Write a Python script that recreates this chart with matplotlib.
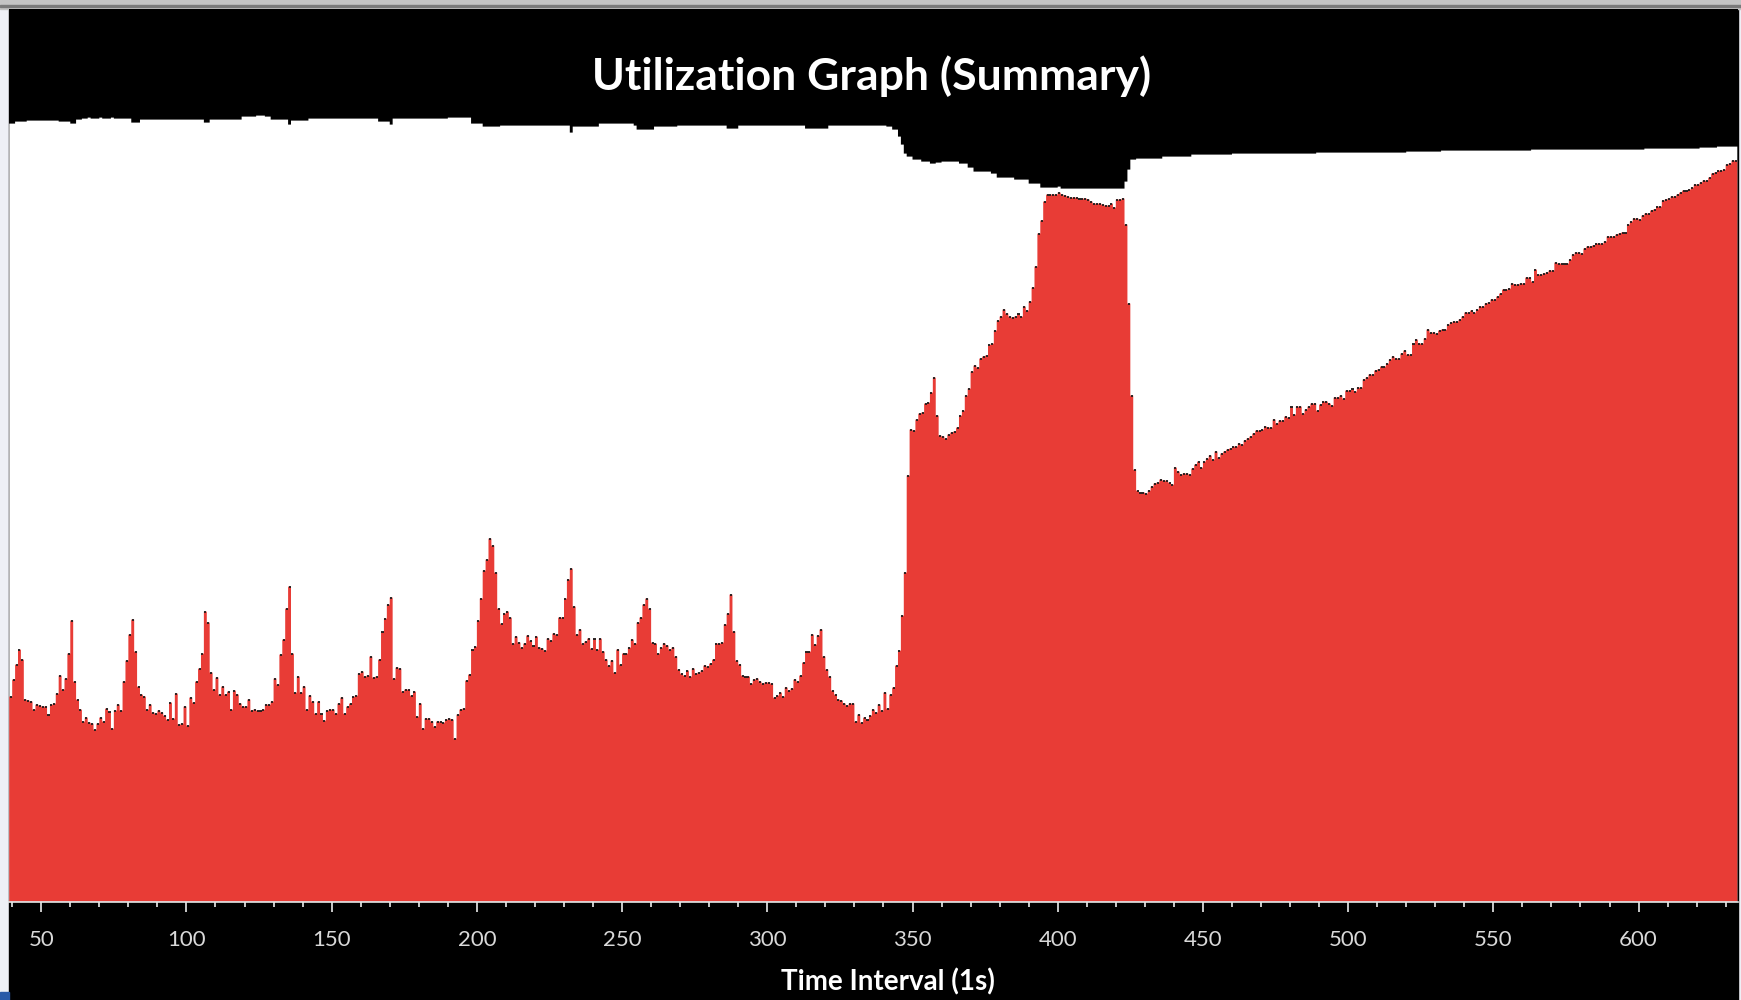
import numpy as np
import matplotlib
matplotlib.use('Agg')
import matplotlib.pyplot as plt
from matplotlib.patches import Rectangle

# 时间 (秒) 39 .. 633
seconds = np.arange(39, 634)

# 已用 (红色)
used = [
    205, 222, 237, 252, 242, 202, 201, 200, 192, 197,
    196, 195, 195, 187, 197, 198, 208, 226, 212, 223,
    248, 281, 220, 202, 192, 180, 184, 179, 178, 172,
    178, 184, 180, 193, 190, 173, 191, 197, 191, 220,
    241, 267, 282, 250, 215, 207, 205, 192, 197, 189,
    188, 191, 189, 186, 182, 199, 183, 208, 177, 178,
    195, 176, 204, 199, 220, 233, 248, 290, 279, 229,
    212, 224, 207, 215, 207, 210, 192, 211, 207, 198,
    195, 195, 202, 191, 192, 191, 191, 192, 197, 197,
    200, 223, 217, 247, 262, 293, 315, 248, 209, 225,
    209, 215, 192, 206, 200, 188, 200, 188, 181, 191,
    192, 192, 188, 198, 204, 188, 195, 198, 205, 206,
    228, 230, 225, 226, 245, 224, 225, 242, 270, 283,
    297, 304, 223, 234, 233, 210, 212, 212, 206, 210,
    185, 198, 173, 183, 183, 180, 175, 180, 180, 179,
    182, 183, 182, 163, 187, 192, 193, 221, 227, 252,
    255, 281, 303, 331, 342, 363, 356, 329, 293, 278,
    288, 290, 284, 258, 265, 259, 254, 258, 266, 261,
    256, 265, 254, 253, 251, 263, 261, 268, 267, 284,
    284, 303, 322, 333, 295, 267, 272, 258, 260, 263,
    253, 263, 252, 263, 250, 242, 236, 241, 229, 252,
    237, 248, 248, 254, 262, 258, 279, 284, 297, 303,
    293, 259, 258, 248, 254, 258, 256, 252, 254, 245,
    232, 228, 226, 231, 225, 233, 228, 229, 231, 236,
    235, 238, 242, 258, 258, 259, 277, 288, 307, 270,
    241, 237, 226, 225, 225, 218, 222, 223, 220, 218,
    219, 219, 218, 204, 206, 209, 205, 214, 211, 213,
    222, 220, 226, 239, 250, 250, 267, 257, 266, 272,
    245, 232, 225, 211, 207, 202, 201, 198, 196, 198,
    198, 180, 187, 179, 184, 182, 186, 192, 189, 197,
    191, 209, 193, 207, 214, 236, 251, 286, 329, 426,
    472, 471, 482, 488, 489, 498, 499, 509, 524, 486,
    466, 465, 463, 467, 469, 470, 474, 486, 491, 506,
    513, 530, 536, 534, 543, 545, 546, 557, 558, 571,
    581, 585, 592, 588, 585, 584, 585, 588, 585, 595,
    591, 600, 614, 635, 668, 681, 700, 707, 707, 707,
    707, 709, 707, 706, 705, 704, 704, 704, 703, 703,
    703, 702, 700, 698, 698, 698, 697, 696, 696, 698,
    694, 702, 702, 703, 677, 598, 506, 432, 411, 409,
    409, 408, 411, 415, 418, 419, 422, 421, 421, 419,
    417, 434, 430, 427, 428, 428, 427, 433, 437, 440,
    434, 440, 443, 446, 442, 450, 444, 448, 450, 452,
    453, 455, 455, 458, 457, 461, 463, 465, 468, 471,
    471, 472, 475, 474, 474, 482, 478, 481, 481, 485,
    484, 495, 487, 495, 495, 488, 492, 495, 498, 498,
    491, 497, 500, 500, 498, 496, 504, 504, 506, 503,
    511, 511, 513, 510, 514, 514, 522, 524, 527, 527,
    531, 532, 535, 535, 538, 542, 545, 543, 543, 548,
    551, 547, 547, 558, 562, 558, 558, 563, 572, 569,
    569, 568, 571, 572, 572, 577, 579, 580, 580, 582,
    585, 589, 589, 591, 589, 592, 595, 595, 598, 599,
    602, 602, 605, 608, 612, 612, 613, 618, 617, 617,
    618, 618, 624, 624, 620, 632, 627, 627, 628, 629,
    631, 631, 639, 638, 638, 638, 638, 642, 647, 649,
    649, 648, 653, 655, 655, 656, 658, 658, 658, 660,
    665, 665, 665, 667, 668, 669, 669, 677, 680, 683,
    683, 682, 686, 688, 688, 691, 692, 695, 695, 701,
    702, 703, 705, 705, 707, 709, 711, 711, 712, 714,
    717, 717, 719, 721, 721, 724, 728, 729, 731, 731,
    732, 737, 738, 741, 741,
]

# 总量 (白色)
capacity = [
    778, 778, 780, 780, 780, 780, 781, 781, 781, 781,
    781, 781, 781, 781, 781, 781, 781, 780, 780, 780,
    780, 778, 778, 782, 782, 783, 783, 784, 783, 783,
    783, 784, 783, 783, 783, 784, 783, 783, 783, 783,
    783, 783, 779, 779, 779, 782, 782, 782, 782, 782,
    782, 782, 782, 782, 782, 782, 782, 782, 782, 782,
    782, 782, 782, 782, 782, 782, 782, 779, 779, 782,
    782, 782, 782, 782, 782, 782, 782, 782, 782, 782,
    785, 785, 785, 785, 785, 786, 786, 786, 785, 785,
    782, 782, 782, 782, 782, 782, 777, 781, 781, 781,
    781, 781, 781, 783, 783, 783, 783, 783, 783, 783,
    783, 783, 783, 783, 783, 783, 783, 783, 783, 783,
    783, 783, 783, 783, 783, 783, 783, 780, 780, 780,
    780, 777, 783, 783, 783, 783, 783, 783, 783, 783,
    783, 783, 783, 783, 783, 783, 783, 783, 783, 783,
    783, 784, 784, 784, 784, 784, 784, 784, 784, 778,
    778, 778, 778, 775, 775, 775, 775, 775, 775, 776,
    776, 776, 776, 776, 776, 776, 776, 776, 776, 776,
    776, 776, 776, 776, 776, 776, 776, 776, 776, 776,
    776, 776, 776, 769, 775, 775, 775, 775, 775, 775,
    775, 775, 775, 778, 778, 778, 778, 778, 778, 778,
    778, 778, 778, 778, 778, 776, 772, 772, 772, 772,
    772, 772, 775, 775, 775, 775, 775, 775, 775, 775,
    776, 776, 776, 776, 776, 776, 776, 776, 776, 776,
    776, 776, 776, 776, 776, 776, 776, 773, 773, 773,
    773, 776, 776, 776, 776, 776, 776, 776, 776, 776,
    776, 776, 776, 776, 776, 776, 776, 776, 776, 776,
    776, 776, 776, 776, 773, 773, 773, 773, 773, 773,
    773, 773, 776, 776, 776, 776, 776, 776, 776, 776,
    776, 776, 776, 776, 776, 776, 776, 776, 776, 776,
    776, 776, 775, 775, 772, 772, 765, 757, 748, 745,
    745, 742, 742, 742, 740, 740, 740, 738, 738, 739,
    739, 740, 740, 740, 740, 740, 740, 738, 738, 738,
    734, 734, 730, 730, 730, 730, 730, 730, 728, 728,
    724, 724, 724, 724, 724, 724, 722, 722, 722, 722,
    722, 718, 718, 718, 718, 714, 714, 714, 714, 714,
    714, 715, 713, 713, 713, 713, 713, 713, 713, 713,
    713, 713, 713, 713, 713, 713, 713, 713, 713, 713,
    713, 713, 713, 713, 720, 732, 742, 742, 743, 743,
    743, 743, 743, 743, 743, 743, 743, 745, 745, 745,
    745, 745, 745, 745, 745, 745, 745, 747, 747, 747,
    747, 747, 747, 747, 747, 747, 747, 747, 747, 747,
    747, 748, 748, 748, 748, 748, 748, 748, 748, 748,
    748, 748, 748, 748, 748, 748, 748, 748, 748, 748,
    748, 748, 748, 748, 748, 748, 748, 748, 748, 748,
    749, 749, 749, 749, 749, 749, 749, 749, 749, 749,
    749, 749, 749, 749, 749, 749, 749, 749, 749, 749,
    749, 749, 749, 749, 749, 749, 749, 749, 749, 749,
    749, 750, 750, 750, 750, 750, 750, 750, 750, 750,
    750, 750, 750, 751, 751, 751, 751, 751, 751, 751,
    751, 751, 751, 751, 751, 751, 751, 751, 751, 751,
    751, 751, 751, 751, 751, 751, 751, 751, 751, 751,
    751, 751, 751, 751, 752, 752, 752, 752, 752, 752,
    752, 752, 752, 752, 752, 752, 752, 752, 752, 752,
    752, 752, 752, 752, 752, 752, 752, 752, 752, 752,
    752, 752, 752, 752, 752, 752, 752, 752, 752, 752,
    752, 752, 752, 753, 753, 753, 753, 753, 753, 753,
    753, 753, 753, 753, 753, 753, 753, 753, 753, 753,
    753, 753, 754, 754, 754, 754, 754, 754, 755, 755,
    755, 755, 755, 755, 755,
]

major_ticks = [50, 100, 150, 200, 250, 300, 350, 400, 450, 500, 550, 600]
minor_ticks = list(range(40, 634, 10))

title = 'Utilization Graph (Summary)'
xlabel = 'Time Interval (1s)'

W, H = 1741, 1000
fig = plt.figure(figsize=(W / 100, H / 100), dpi=100, facecolor='#eef0f6')

# 窗口边框和黑色背景
fig.patches.append(Rectangle((9 / W, 0), (1737.6 - 9) / W, 0.991,
                             transform=fig.transFigure, color='black', zorder=0))
fig.patches.append(Rectangle((0, 0.991), 1, 0.009, transform=fig.transFigure,
                             color='#c4c4c4', zorder=0))
fig.patches.append(Rectangle((0, 0.993), 1, 0.002, transform=fig.transFigure,
                             color='#7a7a7a', zorder=0))
fig.patches.append(Rectangle((0, 0), 9 / W, 0.008, transform=fig.transFigure,
                             color='#2a5ba8', zorder=0))

ax = fig.add_axes([9 / W, 1 - 901.6 / H, (1737.6 - 9) / W, (901.6 - 9) / H])
ax.set_zorder(2)
ax.set_facecolor('black')

edges = np.append(seconds, seconds[-1] + 1)
ax.stairs(capacity, edges, fill=True, color='white', lw=0)
ax.stairs(used, edges, fill=True, color='#e83c36', lw=0)
ax.hlines(used, seconds + 0.15, seconds + 0.85, colors='#1c1c1c', lw=1.3)

ax.set_xlim(38.9, 634.1)
ax.set_ylim(0, 892.6)

for s in ['top', 'left', 'right']:
    ax.spines[s].set_visible(False)
ax.spines['bottom'].set_color('#e6e6e6')
ax.spines['bottom'].set_linewidth(1.2)
ax.set_yticks([])

fonts = ['Lato', 'DejaVu Sans']
ax.set_xticks(major_ticks)
ax.set_xticks(minor_ticks, minor=True)
ax.set_xticklabels([str(v) for v in major_ticks])
ax.tick_params(axis='x', which='major', length=7.2, width=1.1, color='white',
               labelcolor='#d9d9d9', labelsize=16, pad=13.5)
ax.tick_params(axis='x', which='minor', length=3.6, width=1.1, color='white')
for lab in ax.get_xticklabels():
    lab.set_family(fonts)

fig.text(871.6 / W, 1 - 76 / H, title, color='white', fontsize=32,
         fontweight='bold', family=fonts, ha='center', va='center')
fig.text(888 / W, 1 - 982 / H, xlabel, color='white', fontsize=20,
         fontweight='bold', family=fonts, ha='center', va='center')

fig.savefig('out.png', dpi=100, facecolor=fig.get_facecolor())
